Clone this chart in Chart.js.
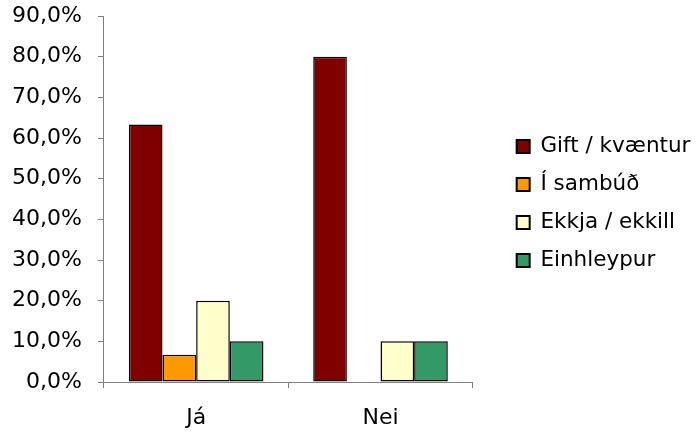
<!DOCTYPE html>
<html>
<head>
<meta charset="utf-8">
<script src="https://cdn.jsdelivr.net/npm/chart.js@4"></script>
<style>
html,body{margin:0;padding:0;background:#fff;}
#wrap{width:697px;height:436px;position:relative;}
</style>
</head>
<body>
<div id="wrap"><canvas id="c" width="697" height="436"></canvas></div>
<script>
const categories = ["Já", "Nei"];
const seriesNames = ["Gift / kvæntur", "Í sambúð", "Ekkja / ekkill", "Einhleypur"];
const giftValues = [63.3, 80.0];
const sambudValues = [6.7, 0];
const ekkjaValues = [20.0, 10.0];
const einhleypurValues = [10.0, 10.0];
const seriesColors = ["#800000", "#FF9900", "#FFFFCC", "#339966"];
const yTicks = [0, 10, 20, 30, 40, 50, 60, 70, 80, 90];

const allValues = [giftValues, sambudValues, ekkjaValues, einhleypurValues];
const FONT = "'DejaVu Sans', Verdana, sans-serif";

const chart = new Chart(document.getElementById('c'), {
  type: 'bar',
  data: {
    labels: categories,
    datasets: seriesNames.map((name, i) => ({
      label: name,
      data: allValues[i],
      backgroundColor: seriesColors[i],
      borderColor: '#000000',
      borderWidth: 1.5,
      borderSkipped: false,
      categoryPercentage: 0.73,
      barPercentage: 1.0
    }))
  },
  options: {
    responsive: false,
    animation: false,
    layout: { padding: { left: -3.9, top: 0, right: -3.4, bottom: -12.4 } },
    plugins: {
      legend: {
        position: 'right',
        fullSize: false,
        maxWidth: 240,
        title: { display: true, text: '', padding: 0, color: '#000', font: { size: 9, lineHeight: 1 } },
        labels: {
          font: { family: FONT, size: 21.5 },
          color: '#000',
          boxWidth: 13,
          boxHeight: 13,
          padding: 16.5,
          generateLabels: (ch) => ch.data.datasets.map((ds, i) => ({
            text: ds.label,
            fillStyle: ds.backgroundColor,
            strokeStyle: '#000',
            fontColor: '#000',
            lineWidth: 2,
            datasetIndex: i
          }))
        }
      },
      tooltip: { enabled: false }
    },
    scales: {
      x: {
        offset: true,
        grid: { display: true, drawOnChartArea: false, offset: true, color: '#808080', tickLength: 6, lineWidth: 1 },
        border: { color: '#808080', width: 1 },
        ticks: { font: { family: FONT, size: 22 }, color: '#000', padding: 17 }
      },
      y: {
        min: 0,
        max: 90,
        afterBuildTicks: (axis) => { axis.ticks = yTicks.map(v => ({ value: v })); },
        grid: { display: true, drawOnChartArea: false, color: '#808080', tickLength: 6, lineWidth: 1 },
        border: { color: '#808080', width: 1 },
        ticks: {
          font: { family: FONT, size: 22, lineHeight: 0 },
          color: '#000',
          padding: 16,
          autoSkip: false,
          callback: (v) => v.toFixed(1).replace('.', ',') + '%'
        }
      },
      gap: {
        type: 'linear',
        position: 'right',
        display: true,
        grid: { display: false },
        border: { display: false },
        ticks: { display: false },
        afterFit: (s) => { s.width = 27.5; }
      }
    }
  }
});
</script>
</body>
</html>
